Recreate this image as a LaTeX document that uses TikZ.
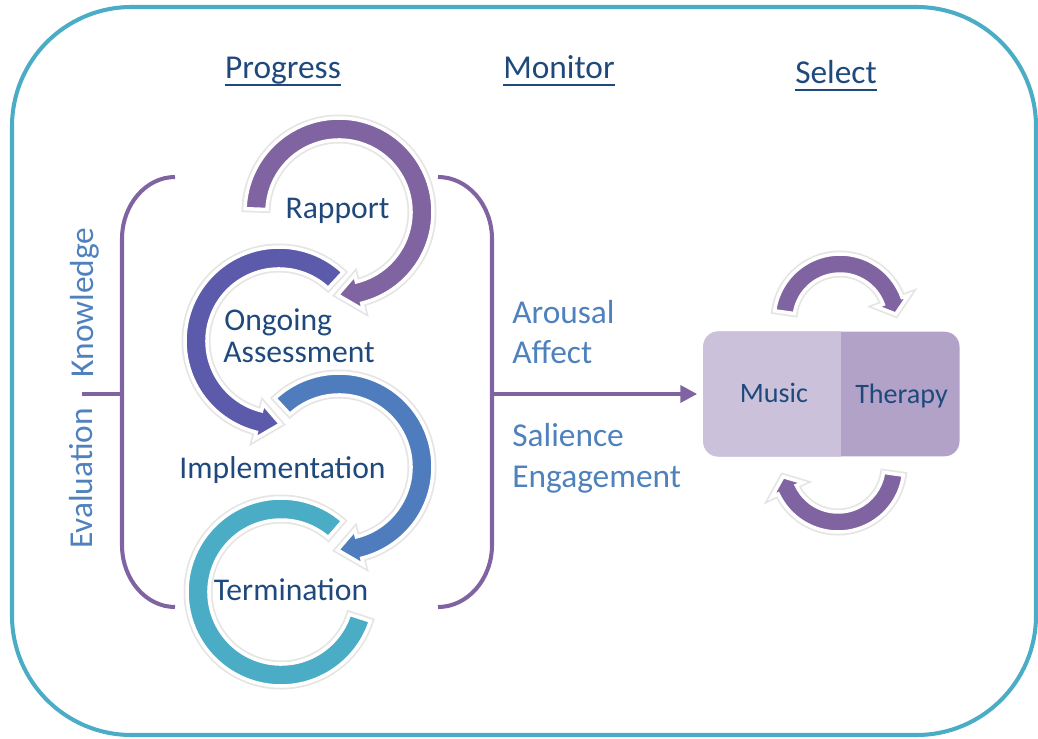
\documentclass[tikz,border=0pt]{standalone}
\usepackage{fontspec}
\setmainfont{Carlito}
\usetikzlibrary{arrows.meta}
\definecolor{bordc}{HTML}{4BACC6}
\definecolor{purp}{HTML}{8064A2}
\definecolor{ongc}{HTML}{5C5AAB}
\definecolor{implc}{HTML}{4F7CBD}
\definecolor{termc}{HTML}{4BACC6}
\definecolor{darkb}{HTML}{1F497D}
\definecolor{lightb}{HTML}{4F81BD}
\definecolor{musicc}{HTML}{CCC1DA}
\definecolor{therc}{HTML}{B3A2C7}
\newcommand\ringarrow[8]{%
  \begin{scope}[shift={#1}]
    \pgfmathsetmacro\rOutR{#2+#3}\pgfmathsetmacro\rInR{#2-#3}%
    \pgfmathsetmacro\hOutR{#2+#7}\pgfmathsetmacro\hInR{#2-#7}%
    \path[arcsty, fill=#8] (#4:\rOutR) arc[start angle=#4, end angle=#5, radius=\rOutR]
      -- (#5:\hOutR) -- (#6:#2) -- (#5:\hInR) -- (#5:\rInR)
      arc[start angle=#5, end angle=#4, radius=\rInR] -- cycle;
  \end{scope}}
\begin{document}
\begin{tikzpicture}[x=0.02cm,y=0.02cm,
  arcsty/.style={draw=white, line width=2pt, preaction={draw=black!10, line width=4pt}},
  bracesty/.style={draw=purp, line width=2.3pt},
  lab/.style={font=\fontsize{18}{22}\selectfont, text=darkb, inner sep=0pt},
  side/.style={font=\fontsize{19}{23}\selectfont, text=lightb, inner sep=0pt},
  head/.style={font=\fontsize{19}{23}\selectfont, text=darkb, inner sep=0pt},
  headline/.style={draw=darkb, line width=1.4pt},
  boxlab/.style={font=\fontsize{16}{19}\selectfont, text=darkb, inner sep=0pt},
]
\useasboundingbox (0,0) rectangle (1038,738);
% outer frame
\draw[draw=bordc, line width=2.3pt, rounded corners=68pt] (12,3) rectangle (1036,731);

% headings
\node[head, anchor=base] (prog) at (283,659) {Progress};
\node[head, anchor=base] (moni) at (559,659) {Monitor};
\node[head, anchor=base] (sele) at (836,654) {Select};
\foreach \h in {prog,moni,sele}
  \draw[headline] ([yshift=-3.4pt]\h.base west) -- ([yshift=-3.4pt]\h.base east);

% braces
\coordinate (lbtop) at (175,561);
\coordinate (lbbot) at (175,131);
\coordinate (lbmid) at (122,344);
\coordinate (lbtick) at (82,344);
\draw[bracesty] (lbtop) .. controls (145.7,561) and (122,533) .. (122,499) -- (122,193)
  .. controls (122,159) and (145.7,131) .. (lbbot);
\draw[bracesty] (lbmid) -- (lbtick);
\coordinate (rbtop) at (438,561);
\coordinate (rbbot) at (438,131);
\coordinate (rbmid) at (492,344);
\draw[bracesty] (rbtop) .. controls (467.8,561) and (492,533) .. (492,499) -- (492,193)
  .. controls (492,159) and (467.8,131) .. (rbbot);

% cycle arrows (bottom first)
\begin{scope}[shift={(281,146)}]
  \path[arcsty, fill=termc] (49:94) arc[start angle=49, end angle=342, radius=94]
    -- (342:72) arc[start angle=342, end angle=49, radius=72] -- cycle;
\end{scope}
\ringarrow{(339,271)}{83}{11}{133}{-76}{-91}{18}{implc}
\ringarrow{(279,397)}{83}{11}{47}{256}{271}{18}{ongc}
\ringarrow{(339,526)}{83}{11}{178}{-76}{-91}{18}{purp}

% cycle labels
\node[lab, anchor=base] (rapport) at (337.5,519) {Rapport};
\node[lab, anchor=base west] (ongoing) at (224,408) {Ongoing};
\node[lab, anchor=base west] (assess) at (223,376) {Assessment};
\node[lab, anchor=base] (impl) at (282.5,260) {Implementation};
\node[lab, anchor=base] (term) at (291,138) {Termination};

% side labels
\node[side, rotate=90, anchor=base] (know) at (93,435.5) {Knowledge};
\node[side, rotate=90, anchor=base] (evalu) at (92,259.5) {Evaluation};
\node[side, anchor=base west] (arous) at (512,415) {Arousal};
\node[side, anchor=base west] (affect) at (512,375) {Affect};
\node[side, anchor=base west] (salie) at (512,292) {Salience};
\node[side, anchor=base west] (engag) at (512,251) {Engagement};

% music therapy box
\node[minimum width=145.7pt, minimum height=70.9pt, inner sep=0pt, rounded corners=8.5pt, fill=therc] (box) at (831.5,344) {};
\begin{scope}
  \clip (box.south west) rectangle ([xshift=-0.1pt]841,420);
  \fill[musicc, rounded corners=8.5pt] (box.south west) rectangle (box.north east);
\end{scope}
\node[boxlab, anchor=base] (music) at (774,336) {Music};
\node[boxlab, anchor=base] (therapy) at (901.5,335) {Therapy};

\draw[bracesty, -{Triangle[length=9.5pt, width=9.5pt]}] (rbmid) -- ([xshift=-3.4pt]box.west);

% small cycle arrows
\ringarrow{(840,418)}{56}{10}{172}{20}{6}{17}{purp}
\ringarrow{(838,272)}{56}{10}{-8}{-155}{-169}{17}{purp}
\end{tikzpicture}
\end{document}
